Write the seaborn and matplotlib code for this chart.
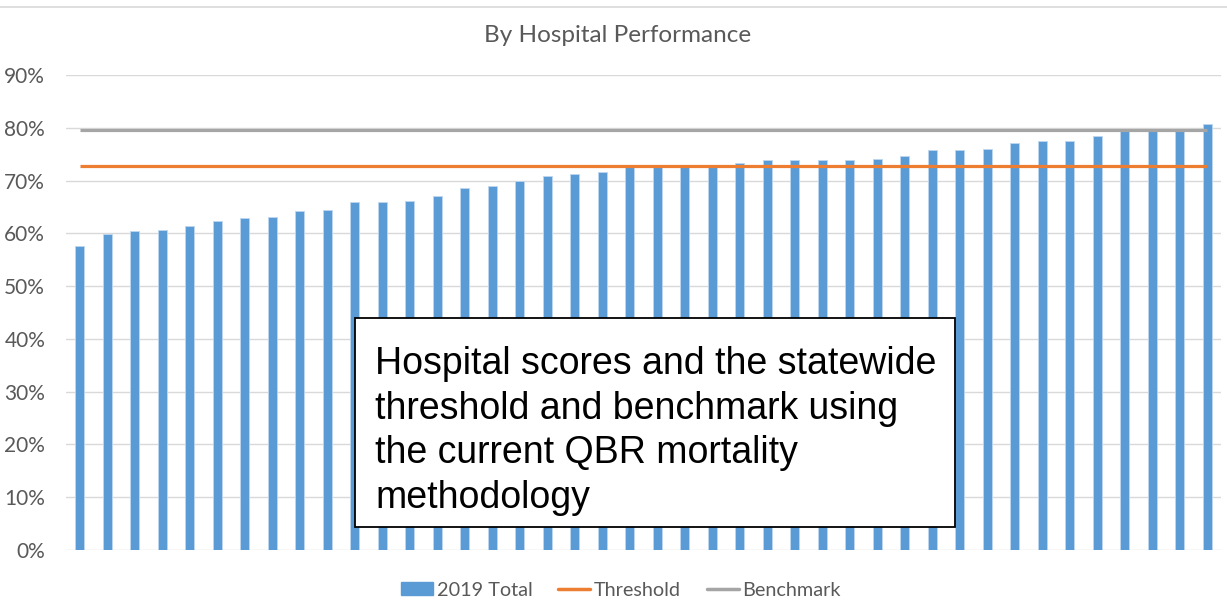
import numpy as np
import pandas as pd
import seaborn as sns
from matplotlib import pyplot as plt
from matplotlib.patches import Patch, Rectangle
from matplotlib.lines import Line2D
from matplotlib.ticker import PercentFormatter

# hospital scores, sorted low to high
scores = [57.6, 59.9, 60.4, 60.6, 61.3, 62.4, 62.9, 63.1, 64.3, 64.5,
          65.9, 65.9, 66.1, 67.0, 68.6, 68.9, 70.0, 70.9, 71.2, 71.6,
          72.6, 72.6, 72.7, 72.7, 73.4, 73.8, 73.8, 73.8, 73.8, 74.1,
          74.6, 75.7, 75.7, 75.9, 77.1, 77.5, 77.5, 78.4, 79.4, 79.4,
          79.4, 80.7]
threshold = 72.7
benchmark = 79.5

title = "By Hospital Performance"
note = ("Hospital scores and the statewide\nthreshold and benchmark using\n"
        "the current QBR mortality\nmethodology")

df = pd.DataFrame({"hospital": [str(i) for i in range(len(scores))],
                   "score": np.array(scores) / 100})

sns.set_style("white")
plt.rcParams["font.family"] = ["Lato", "DejaVu Sans"]
txt = "#595959"

fig = plt.figure(figsize=(12.27, 6.14), dpi=100)
ax = fig.add_axes([66 / 1227, 1 - 550 / 614, 1155 / 1227, (550 - 75) / 614])

sns.barplot(data=df, x="hospital", y="score", color="#5B9BD5", width=0.31,
            saturation=1, edgecolor="#BDD7EE", linewidth=0.6, ax=ax, zorder=2)

n = len(scores)
ax.plot([0, n - 1], [threshold / 100] * 2, color="#ED7D31", lw=2.3, zorder=3,
        solid_capstyle="butt")
ax.plot([0, n - 1], [benchmark / 100] * 2, color="#A5A5A5", lw=2.3, zorder=3,
        solid_capstyle="butt")

ax.set_xlim(-0.5, n - 0.5)
ax.set_ylim(0, 0.9)
ax.set_yticks(np.arange(0, 0.91, 0.1))
ax.yaxis.set_major_formatter(PercentFormatter(1.0, decimals=0))
ax.set_xticks([])
ax.set_xlabel("")
ax.set_ylabel("")
ax.grid(axis="y", color="#D9D9D9", lw=1, zorder=0)
for s in ax.spines.values():
    s.set_visible(False)
ax.tick_params(axis="y", length=0, pad=15, labelsize=15, labelcolor=txt)

fig.text(618 / 1227, 1 - 36 / 614, title, ha="center", va="center",
         fontsize=17.5, color=txt)

# note box
fig.patches.append(Rectangle((355 / 1227, 1 - 527 / 614), 600 / 1227, 209 / 614,
                             transform=fig.transFigure, facecolor="white",
                             edgecolor="black", lw=1.3, zorder=5))
fig.text(375 / 1227, 1 - 431 / 614, note, ha="left", va="center",
         fontsize=27, family=["Liberation Sans"], color="black",
         linespacing=1.3, zorder=6)

# top border line
fig.add_artist(Line2D([0, 1], [1 - 7 / 614] * 2, color="#D9D9D9", lw=1.2))

handles = [Patch(facecolor="#5B9BD5", edgecolor="#5B9BD5"),
           Line2D([], [], color="#ED7D31", lw=2.5),
           Line2D([], [], color="#A5A5A5", lw=2.5)]
fig.legend(handles, ["2019 Total", "Threshold", "Benchmark"], loc="center",
           bbox_to_anchor=(621 / 1227, 1 - 590 / 614), ncol=3, frameon=False,
           fontsize=14.3, labelcolor=txt, handlelength=1.6, handletextpad=0.2,
           columnspacing=1.3, handleheight=0.6)

plt.savefig("out.png", dpi=100)
